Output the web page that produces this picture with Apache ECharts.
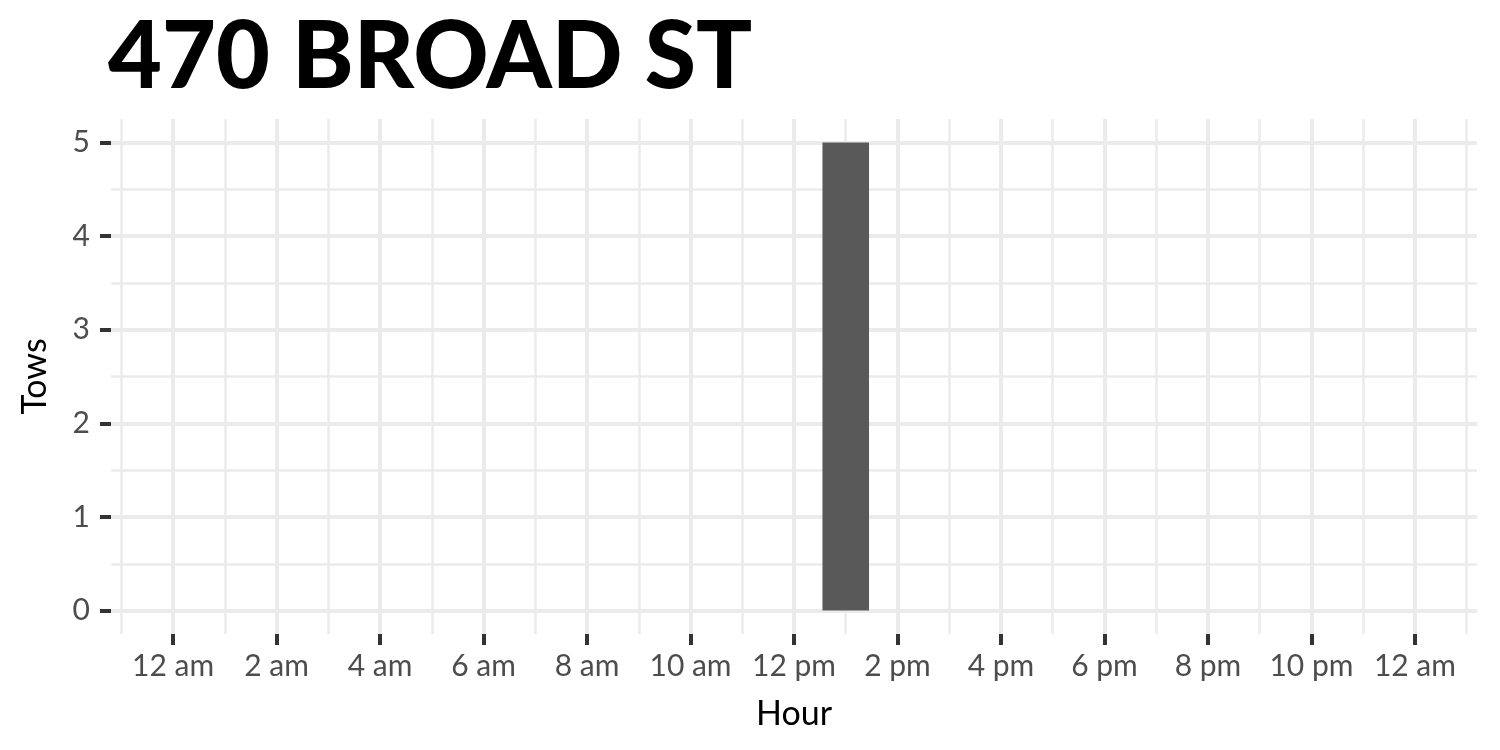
<!DOCTYPE html>
<html>
<head>
<meta charset="utf-8">
<script src="https://cdn.jsdelivr.net/npm/echarts@6/dist/echarts.min.js"></script>
<style>html,body{margin:0;padding:0;background:#fff;}#c{width:1500px;height:750px;}</style>
</head>
<body>
<div id="c"></div>
<script>
const title = '470 BROAD ST';
const hours = [0,1,2,3,4,5,6,7,8,9,10,11,12,13,14,15,16,17,18,19,20,21,22,23];
const tows  = [0,0,0,0,0,0,0,0,0,0,0,0,0,5,0,0,0,0,0,0,0,0,0,0];
const xTicks = [0,2,4,6,8,10,12,14,16,18,20,22,24];
const xTickLabels = ['12 am','2 am','4 am','6 am','8 am','10 am','12 pm','2 pm','4 pm','6 pm','8 pm','10 pm','12 am'];
const xMinor = [-1,1,3,5,7,9,11,13,15,17,19,21,23,25];
const yTicks = [0,1,2,3,4,5];
const yMinor = [0.5,1.5,2.5,3.5,4.5];
const xName = 'Hour';
const yName = 'Tows';

const FONT = 'Lato';
const xMin = -1.2, xMax = 25.2, yMin = -0.25, yMax = 5.25;
const grid = {left:111, right:23, top:119, bottom:116, outerBoundsMode:'none', containLabel:false};

const chart = echarts.init(document.getElementById('c'), null, {renderer:'canvas'});
chart.setOption({
  animation:false,
  backgroundColor:'#ffffff',
  graphic:[{type:'text', x:108, y:11, scaleX:0.99, scaleY:1,
    style:{text:title, fontFamily:FONT, fontWeight:900, fontSize:94, fill:'#000', verticalAlign:'top'}}],
  grid:grid,
  xAxis:[
    {type:'value', min:xMin, max:xMax, gridIndex:0, position:'bottom',
     axisLine:{show:false, onZero:false},
     axisTick:{show:true, customValues:xTicks, length:11, lineStyle:{color:'#333333', width:4}},
     axisLabel:{show:true, customValues:xTicks, margin:17, color:'#4d4d4d', fontFamily:FONT, fontSize:30,
       formatter:function(v){const i=xTicks.indexOf(v);return i>=0?xTickLabels[i]:'';}},
     splitLine:{show:true, lineStyle:{color:'#ebebeb', width:4}},
     name:xName, nameLocation:'middle', nameGap:63,
     nameTextStyle:{fontFamily:FONT, fontSize:34, color:'#000'}, z:2},
    {type:'value', min:xMin, max:xMax, gridIndex:0, position:'bottom',
     axisLine:{show:false, onZero:false},
     axisTick:{show:false, customValues:xMinor},
     axisLabel:{show:false, customValues:xMinor},
     splitLine:{show:true, lineStyle:{color:'#ebebeb', width:2.5}}, z:1}
  ],
  yAxis:[
    {type:'value', min:yMin, max:yMax, gridIndex:0, position:'left',
     axisLine:{show:false, onZero:false},
     axisTick:{show:true, customValues:yTicks, length:11, lineStyle:{color:'#333333', width:4}},
     axisLabel:{show:true, customValues:yTicks, margin:21, color:'#4d4d4d', fontFamily:FONT, fontSize:30},
     splitLine:{show:true, lineStyle:{color:'#ebebeb', width:4}},
     name:yName, nameLocation:'middle', nameGap:59, nameRotate:90,
     nameTextStyle:{fontFamily:FONT, fontSize:34, color:'#000'}, z:2},
    {type:'value', min:yMin, max:yMax, gridIndex:0, position:'left',
     axisLine:{show:false, onZero:false},
     axisTick:{show:false, customValues:yMinor},
     axisLabel:{show:false, customValues:yMinor},
     splitLine:{show:true, lineStyle:{color:'#ebebeb', width:2.5}}, z:1}
  ],
  series:[{
    type:'bar', xAxisIndex:0, yAxisIndex:0,
    data: hours.map((h,i)=>[h,tows[i]]),
    barWidth:'90%',
    itemStyle:{color:'#595959'},
    z:5
  }]
});
</script>
</body>
</html>
